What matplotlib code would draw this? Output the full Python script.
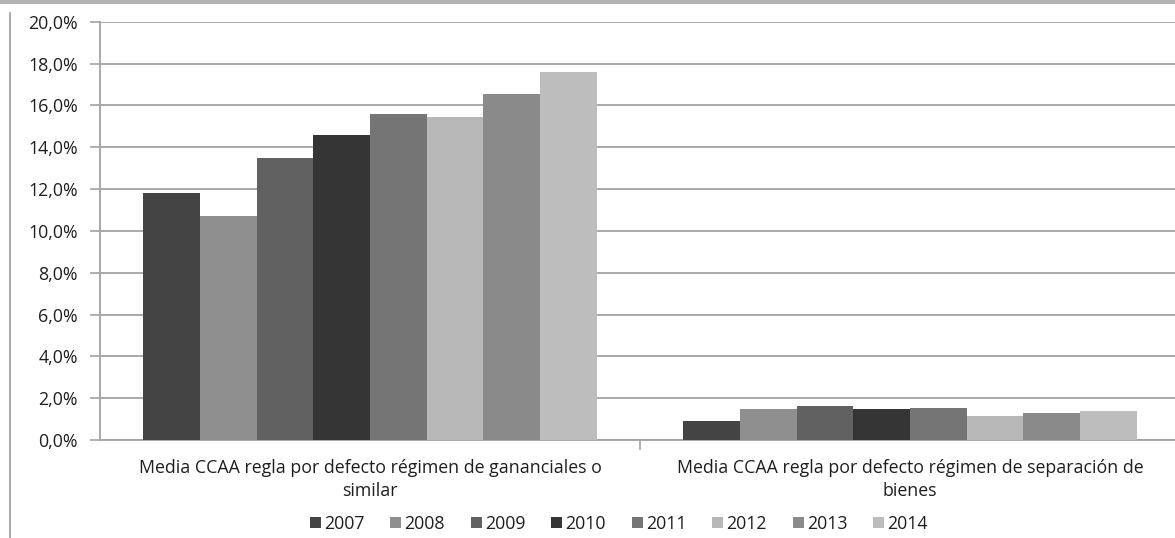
import matplotlib
matplotlib.use("Agg")
import matplotlib.pyplot as plt
from matplotlib.patches import Rectangle
from matplotlib.lines import Line2D
import numpy as np

categories = [
    "Media CCAA regla por defecto régimen de gananciales o\nsimilar",
    "Media CCAA regla por defecto régimen de separación de\nbienes",
]
years = ["2007", "2008", "2009", "2010", "2011", "2012", "2013", "2014"]
gananciales = [11.8, 10.7, 13.5, 14.6, 15.6, 15.45, 16.55, 17.6]
separacion = [0.93, 1.47, 1.63, 1.47, 1.55, 1.16, 1.31, 1.38]
colors = ["#444444", "#8f8f8f", "#616161", "#353535", "#757575",
          "#b8b8b8", "#8a8a8a", "#bdbdbd"]
yticks = [0, 2, 4, 6, 8, 10, 12, 14, 16, 18, 20]

plt.rcParams['font.family'] = ['Open Sans', 'DejaVu Sans']
FS = 12.8
TXT = "#1e1e1e"

W, H = 1175, 538
fig = plt.figure(figsize=(W / 100, H / 100), dpi=100)

# frame decorations: top band and left rule
fig.add_artist(Rectangle((0, 1 - 4 / H), 1, 4 / H, transform=fig.transFigure,
                         facecolor="#b3b3b3", edgecolor="none"))
fig.add_artist(Line2D([10 / W, 10 / W], [0, 1 - 13 / H], transform=fig.transFigure,
                      color="#9a9a9a", lw=1.2))

left, right = 100 / W, 1180 / W
bottom, top = 1 - 440 / H, 1 - 21.7 / H
ax = fig.add_axes([left, bottom, right - left, top - bottom])

values = np.array([gananciales, separacion])
n = len(years)
width = 0.84 / n
x = np.arange(len(categories))
for i, (yr, c) in enumerate(zip(years, colors)):
    ax.bar(x - 0.42 + width * (i + 0.5), values[:, i], width=width,
           color=c, label=yr, zorder=3, linewidth=0)

ax.set_xlim(-0.5, 1.5)
ax.set_ylim(0, 20)
ax.set_yticks(yticks)
ax.set_yticklabels([f"{v:.1f}%".replace(".", ",") for v in yticks],
                   fontsize=FS, color=TXT)
ax.yaxis.grid(True, color="#a3a3a3", lw=1.3, zorder=0)
ax.tick_params(axis="y", length=7, width=1.2, color="#a3a3a3", pad=9)

ax.set_xticks(x)
ax.set_xticklabels(categories, fontsize=FS, color=TXT, linespacing=1.36)
ax.tick_params(axis="x", which="major", length=0, pad=14)
ax.set_xticks([0.5], minor=True)
ax.tick_params(axis="x", which="minor", length=7, width=1.2, color="#a3a3a3",
               direction="out")

for s in ["top", "right"]:
    ax.spines[s].set_visible(False)
ax.spines["left"].set_color("#a3a3a3")
ax.spines["left"].set_linewidth(1.3)
ax.spines["bottom"].set_color("#a3a3a3")
ax.spines["bottom"].set_linewidth(1.3)

handles = [Rectangle((0, 0), 1, 1, facecolor=c, edgecolor="none") for c in colors]
fig.legend(handles, years, loc="center", bbox_to_anchor=(619 / W, 1 - 524 / H),
           ncol=n, frameon=False, fontsize=FS, handlelength=0.6, handleheight=0.6,
           handletextpad=0.2, columnspacing=1.45, labelcolor=TXT)

fig.savefig("out.png", dpi=100, facecolor="white")
